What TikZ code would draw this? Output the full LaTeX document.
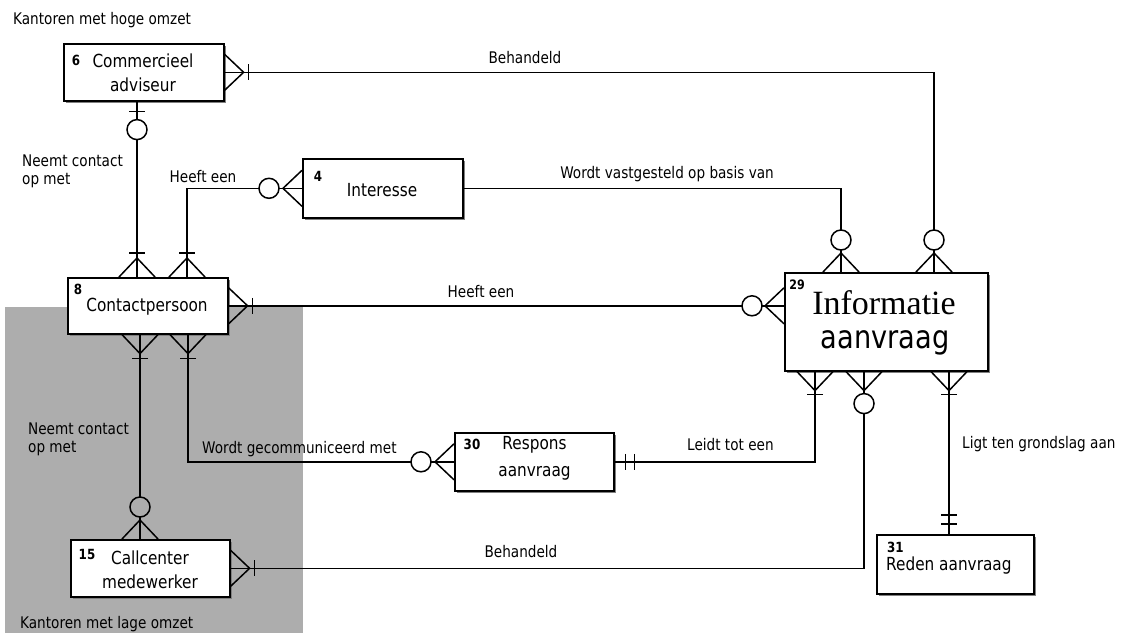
\documentclass[tikz,border=0pt]{standalone}
\usepackage{fontspec}
\setmainfont{DejaVu Sans}[FakeStretch=0.85]
\newfontfamily\bigserif{Liberation Serif}
\usetikzlibrary{shadows}
\definecolor{shadegray}{gray}{0.68}
\tikzset{
  box/.style={draw, line width=1.6pt, fill=white, inner sep=0pt, anchor=north west,
    drop shadow={shadow xshift=2.5pt, shadow yshift=-2.5pt, fill=black!50, opacity=1}},
  conn/.style={line width=1.5pt},
  lbl/.style={font=\fontsize{16}{18}\selectfont, inner sep=0pt, align=left},
  btxt/.style={font=\fontsize{18}{24}\selectfont, inner sep=0pt, align=center},
  num/.style={font=\bfseries\fontsize{14}{16}\selectfont, inner sep=0pt},
  crowm/.pic={\draw[line width=1.5pt] (0,18) -- (19,0) -- (0,-18);},
  barm/.pic={\draw[line width=1.5pt] (0,-8) -- (0,8);},
  circw/.pic={\draw[line width=1.5pt, fill=white] (0,0) circle[radius=10];},
  circg/.pic={\draw[line width=1.5pt, fill=shadegray] (0,0) circle[radius=10];}
}
\begin{document}
\begin{tikzpicture}[x=1pt,y=-1pt]
\useasboundingbox (0,0) rectangle (1132,633);
\fill[white] (0,0) rectangle (1132,633);
% shaded area
\fill[shadegray] (5,307) rectangle (303,633);

% boxes
\node[box, minimum width=160, minimum height=57] (adv) at (63,43) {};
\node[box, minimum width=160, minimum height=59] (int) at (302,158) {};
\node[box, minimum width=160, minimum height=56] (cp) at (67,277) {};
\node[box, minimum width=203, minimum height=98] (info) at (784,272) {};
\node[box, minimum width=159, minimum height=58] (resp) at (454,432) {};
\node[box, minimum width=159, minimum height=57] (cc) at (70,539) {};
\node[box, minimum width=157, minimum height=59] (reden) at (876,534) {};

% attachment coordinates
\coordinate (T1) at ([xshift=150]info.north west);
\coordinate (T2) at ([xshift=57]info.north west);
\coordinate (B1) at ([xshift=74]adv.south west);
\coordinate (P1) at ([xshift=70]cp.north west);
\coordinate (P2) at ([xshift=120]cp.north west);
\coordinate (P3) at ([xshift=73]cp.south west);
\coordinate (P4) at ([xshift=121]cp.south west);
\coordinate (C1) at ([xshift=70]cc.north west);
\coordinate (I1) at ([xshift=31]info.south west);
\coordinate (I2) at ([xshift=80]info.south west);
\coordinate (I3) at ([xshift=165]info.south west);
\coordinate (R1) at ([xshift=73]reden.north west);
\coordinate (L1) at (cp.east -| info.west);

% connectors
\draw[conn] (adv.east) -| (T1);
\draw[conn] (B1) -- (P1);
\draw[conn] (int.west) -| (P2);
\draw[conn] (int.east) -| (T2);
\draw[conn] (cp.east) -- (L1);
\draw[conn] (P3) -- (C1);
\draw[conn] (P4) |- (resp.west);
\draw[conn] (resp.east) -| (I1);
\draw[conn] (cc.east) -| (I2);
\draw[conn] (I3) -- (R1);

% end marks
\pic at (adv.east) {crowm};
\pic at ([xshift=24]adv.east) {barm};
\pic[rotate=90] at (T1) {crowm};
\pic at ([yshift=32]T1) {circw};
\pic[rotate=90] at ([yshift=-10]B1) {barm};
\pic at ([yshift=-28]B1) {circw};
\pic[rotate=90] at (P1) {crowm};
\pic[rotate=90] at ([yshift=24]P1) {barm};
\pic[rotate=180] at (int.west) {crowm};
\pic at ([xshift=-33]int.west) {circw};
\pic[rotate=90] at (P2) {crowm};
\pic[rotate=90] at ([yshift=24]P2) {barm};
\pic[rotate=90] at (T2) {crowm};
\pic at ([yshift=32]T2) {circw};
\pic at (cp.east) {crowm};
\pic at ([xshift=24]cp.east) {barm};
\pic[rotate=180] at (L1) {crowm};
\pic at ([xshift=-32]L1) {circw};
\pic[rotate=-90] at (P3) {crowm};
\pic[rotate=-90] at ([yshift=-24]P3) {barm};
\pic[rotate=90] at (C1) {crowm};
\pic at ([yshift=32]C1) {circg};
\pic[rotate=-90] at (P4) {crowm};
\pic[rotate=-90] at ([yshift=-24]P4) {barm};
\pic[rotate=180] at (resp.west) {crowm};
\pic at ([xshift=-33]resp.west) {circw};
\pic at ([xshift=11]resp.east) {barm};
\pic at ([xshift=20]resp.east) {barm};
\pic[rotate=-90] at (I1) {crowm};
\pic[rotate=-90] at ([yshift=-23]I1) {barm};
\pic at (cc.east) {crowm};
\pic at ([xshift=24]cc.east) {barm};
\pic[rotate=-90] at (I2) {crowm};
\pic at ([yshift=-32]I2) {circw};
\pic[rotate=-90] at (I3) {crowm};
\pic[rotate=-90] at ([yshift=-23]I3) {barm};
\pic[rotate=90] at ([yshift=10]R1) {barm};
\pic[rotate=90] at ([yshift=19]R1) {barm};

% box texts
\node[num] (n6) at (76,60) {6};
\node[btxt] (t6) at (143,73) {Commercieel\\adviseur};
\node[num] (n4) at (318,176) {4};
\node[btxt] (t4) at (382,190) {Interesse};
\node[num] (n8) at (78,289) {8};
\node[btxt] (t8) at (147,307) {Contactpersoon};
\node[num, font=\bfseries\fontsize{13}{15}\selectfont] (n29) at (797,285) {29};
\node[inner sep=0pt, font=\bigserif\fontsize{34}{36}\selectfont] (t29a) at (884,303) {Informatie};
\node[inner sep=0pt, font=\fontsize{32}{36}\selectfont] (t29b) at (885,343) {aanvraag};
\node[num] (n30) at (472,444) {30};
\node[btxt, font=\fontsize{18}{27}\selectfont] (t30) at (534.5,458) {Respons\\aanvraag};
\node[num] (n15) at (87,554) {15};
\node[btxt] (t15) at (150,570) {Callcenter\\medewerker};
\node[num, anchor=west] (n31) at (887,547) {31};
\node[btxt, anchor=west] (t31) at (886,566) {Reden aanvraag};

% connector labels
\node[lbl, anchor=west] (k1) at (13,20) {Kantoren met hoge omzet};
\node[lbl] (l1) at (525,58) {Behandeld};
\node[lbl, anchor=west] (l2) at (22,171) {Neemt contact\\op met};
\node[lbl] (l3) at (203,177) {Heeft een};
\node[lbl] (l4) at (667,174) {Wordt vastgesteld op basis van};
\node[lbl] (l5) at (481,292) {Heeft een};
\node[lbl, anchor=west] (l6) at (28,439) {Neemt contact\\op met};
\node[lbl, anchor=west] (l7) at (202,449) {Wordt gecommuniceerd met};
\node[lbl, anchor=west] (l8) at (687,445) {Leidt tot een};
\node[lbl] (l9) at (521,552) {Behandeld};
\node[lbl, anchor=west] (l10) at (962,444) {Ligt ten grondslag aan};
\node[lbl, anchor=west] (k2) at (20,624) {Kantoren met lage omzet};
\end{tikzpicture}
\end{document}
